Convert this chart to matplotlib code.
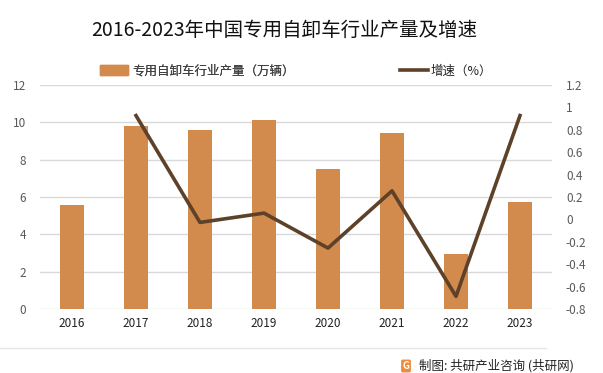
import matplotlib.pyplot as plt
from matplotlib.patches import Patch
from matplotlib.lines import Line2D
from matplotlib.ticker import FuncFormatter


# Chart data
YEARS = ["2016", "2017", "2018", "2019", "2020", "2021", "2022", "2023"]
OUTPUT = [5.57, 9.82, 9.61, 10.14, 7.52, 9.45, 2.96, 5.75]
GROWTH = [None, 0.927, -0.027, 0.056, -0.256, 0.255, -0.687, 0.927]

TITLE = "2016-2023年中国专用自卸车行业产量及增速"
BAR_LABEL = "专用自卸车行业产量（万辆）"
LINE_LABEL = "增速（%）"
SOURCE = "制图: 共研产业咨询 (共研网)"

BAR_COLOR = "#D38B4D"
LINE_COLOR = "#5E4129"
GRID_COLOR = "#D9D9D9"
TICK_COLOR = "#595959"

plt.rcParams["font.family"] = ["Noto Sans CJK SC", "DejaVu Sans"]

fig = plt.figure(figsize=(6.03, 3.73), dpi=100)
ax = fig.add_axes([40 / 603, 64 / 373, 512 / 603, 224 / 373])
ax2 = ax.twinx()

positions = list(range(len(YEARS)))

# Bars on the left axis
ax.bar(positions, OUTPUT, width=0.39, color=BAR_COLOR, zorder=2)
ax.set_ylim(0, 12)
ax.set_yticks(range(0, 13, 2))
ax.set_xlim(-0.5, len(YEARS) - 0.5)
ax.set_xticks(positions)
ax.set_xticklabels(YEARS)
ax.grid(axis="y", color=GRID_COLOR, linewidth=1, zorder=0)
ax.set_axisbelow(True)

# Growth line on the right axis
line_x = [p for p, g in zip(positions, GROWTH) if g is not None]
line_y = [g for g in GROWTH if g is not None]
ax2.plot(line_x, line_y, color=LINE_COLOR, linewidth=2.6, zorder=3)
ax2.set_ylim(-0.8, 1.2)
ax2.set_yticks([-0.8 + 0.2 * i for i in range(11)])
ax2.yaxis.set_major_formatter(FuncFormatter(lambda v, _: f"{round(v, 1):g}"))

for axis in (ax, ax2):
    for spine in axis.spines.values():
        spine.set_visible(False)
    axis.tick_params(length=0)

ax.tick_params(axis="y", labelsize=8.5, labelcolor=TICK_COLOR, pad=10)
ax.tick_params(axis="x", labelsize=8.5, labelcolor="#222222", pad=6)
ax2.tick_params(axis="y", labelsize=8.5, labelcolor=TICK_COLOR, pad=10)

# Title and legend
fig.text(284 / 603, 1 - 30 / 373, TITLE, ha="center", va="center",
         fontsize=14, color="#111111")

handles = [Patch(color=BAR_COLOR), Line2D([0], [0], color=LINE_COLOR, linewidth=2.6)]
leg1 = fig.legend([handles[0]], [BAR_LABEL], loc="center left",
                  bbox_to_anchor=(89 / 603, 1 - 71 / 373), frameon=False,
                  fontsize=9, handlelength=2.2, handleheight=0.9,
                  handletextpad=0.4, labelcolor="#404040")
leg2 = fig.legend([handles[1]], [LINE_LABEL], loc="center left",
                  bbox_to_anchor=(389 / 603, 1 - 71 / 373), frameon=False,
                  fontsize=9, handlelength=2.2, handletextpad=0.2,
                  labelcolor="#222222")
fig.add_artist(leg1)

# Footer separator and source
fig.add_artist(Line2D([0, 546 / 603], [1 - 348 / 373, 1 - 348 / 373],
                      color="#E6E6E6", linewidth=1))
fig.text(406 / 603, 1 - 366 / 373, "G", ha="center", va="center",
         fontsize=7, color="white", fontweight="bold",
         bbox=dict(boxstyle="round,pad=0.15", facecolor="#F08A3C",
                   edgecolor="none"))
fig.text(419 / 603, 1 - 366 / 373, SOURCE, ha="left", va="center",
         fontsize=9, color="#222222")

fig.savefig("out.png", dpi=100)
